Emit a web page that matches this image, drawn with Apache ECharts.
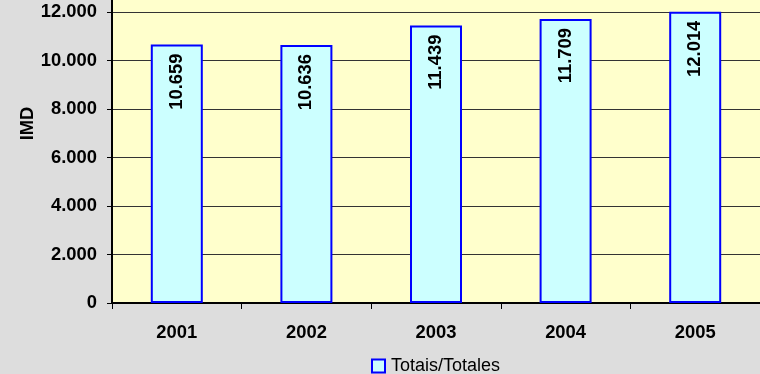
<!DOCTYPE html>
<html><head><meta charset="utf-8">
<script src="https://cdn.jsdelivr.net/npm/echarts@6/dist/echarts.min.js"></script>
<style>html,body{margin:0;padding:0;background:#dddddd}#c{width:760px;height:374px}</style>
</head><body><div id="c"></div>
<script>
var categories = ['2001','2002','2003','2004','2005'];
var totals = [10659, 10636, 11439, 11709, 12014];
var seriesName = 'Totais/Totales';
var axisName = 'IMD';

function fmt(v){ return String(Math.round(v)).replace(/\B(?=(\d{3})+(?!\d))/g,'.'); }

var chart = echarts.init(document.getElementById('c'));
var F = 'Liberation Sans, Arial, sans-serif';
var FS = 18.4;
chart.setOption({
  backgroundColor:'#dddddd',
  animation:false,
  grid:{left:112,right:-4,top:12,bottom:71,show:true,backgroundColor:'#ffffcc',borderWidth:0},
  graphic:[
    {type:'rect',z:-1,shape:{x:112,y:0,width:660,height:12},style:{fill:'#ffffcc'}},
    {type:'line',z:5,shape:{x1:112,y1:0,x2:112,y2:13},style:{stroke:'#000',lineWidth:2}}
  ],
  legend:{top:352,left:366,itemWidth:13,itemHeight:13,itemGap:4,
    textStyle:{fontFamily:F,fontSize:18,color:'#000',padding:[0,0,0,1]},
    data:[{name:seriesName,icon:'rect',itemStyle:{color:'#ccffff',borderColor:'#0000ff',borderWidth:2}}]},
  xAxis:{type:'category',data:categories,
    axisLine:{lineStyle:{color:'#000',width:2}},
    axisTick:{show:true,length:6,lineStyle:{color:'#000'}},
    axisLabel:{margin:21,fontFamily:F,fontSize:FS,fontWeight:'bold',color:'#000'}},
  yAxis:{type:'value',min:0,max:12000,interval:2000,
    name:axisName,nameLocation:'middle',nameGap:75,nameRotate:90,nameMoveOverlap:false,
    nameTextStyle:{fontFamily:F,fontSize:FS,fontWeight:'bold',color:'#000',padding:[0,0,0,68]},
    axisLine:{show:true,lineStyle:{color:'#000',width:2}},
    axisTick:{show:true,length:5,lineStyle:{color:'#000'}},
    splitLine:{lineStyle:{color:'#333',width:1}},
    axisLabel:{margin:15,fontFamily:F,fontSize:FS,fontWeight:'bold',color:'#000',formatter:fmt}},
  series:[{type:'bar',name:seriesName,data:totals,barWidth:52,
    itemStyle:{color:'#ccffff',borderColor:'#0000ff',borderWidth:2},
    label:{show:true,position:'insideTop',rotate:90,align:'right',verticalAlign:'middle',distance:9,
      fontFamily:F,fontSize:FS,fontWeight:'bold',color:'#000',formatter:function(p){return fmt(p.value);}}}]
});
</script></body></html>
